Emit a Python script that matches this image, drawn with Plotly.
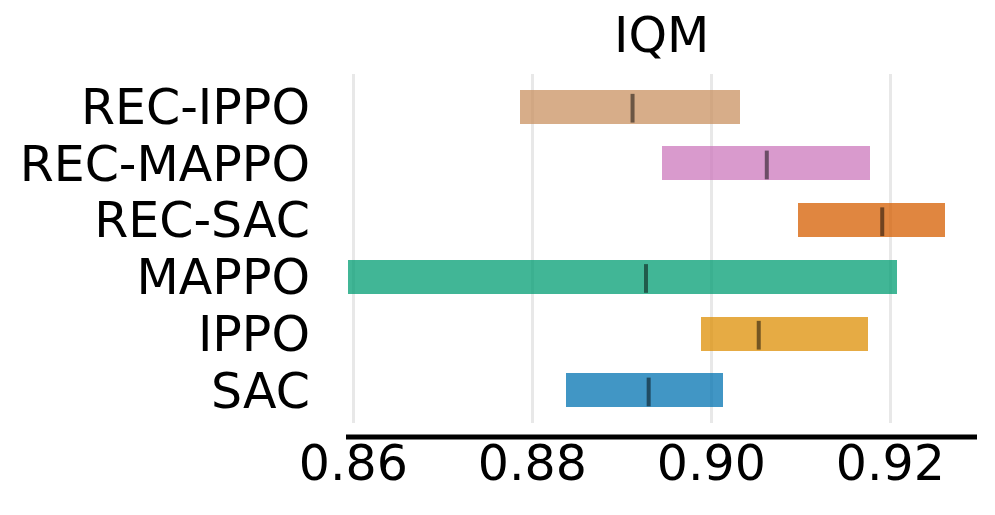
import plotly.graph_objects as go

algorithms = ["SAC", "IPPO", "MAPPO", "REC-SAC", "REC-MAPPO", "REC-IPPO"]
lower = [0.8838, 0.8988, 0.8594, 0.9097, 0.8945, 0.8786]
upper = [0.9013, 0.9175, 0.9208, 0.9261, 0.9177, 0.9032]
median = [0.8930, 0.9053, 0.8927, 0.9191, 0.9062, 0.8912]
colors = ["#0173B2", "#DE8F05", "#029E73", "#D55E00", "#CC78BC", "#CA9161"]
x_ticks = [0.86, 0.88, 0.90, 0.92]
x_tick_labels = ["0.86", "0.88", "0.90", "0.92"]
title = "IQM"

def rgba(hexc, a):
    h = hexc.lstrip("#")
    r, g, b = int(h[0:2], 16), int(h[2:4], 16), int(h[4:6], 16)
    return f"rgba({r},{g},{b},{a})"

H = 0.6
fig = go.Figure()
for i, alg in enumerate(algorithms):
    fig.add_trace(go.Bar(
        y=[i], x=[upper[i] - lower[i]], base=[lower[i]], orientation="h",
        width=H, marker=dict(color=rgba(colors[i], 0.75), line=dict(width=0)),
        showlegend=False, hoverinfo="skip",
    ))
for i, alg in enumerate(algorithms):
    fig.add_trace(go.Scatter(
        x=[median[i], median[i]], y=[i - 7.5 * H / 16, i + 6 * H / 16],
        mode="lines", line=dict(color="rgba(0,0,0,0.5)", width=4),
        showlegend=False, hoverinfo="skip",
    ))

font = "DejaVu Sans"
FS = 49
fig.update_layout(
    width=995, height=515,
    margin=dict(l=338, r=26, t=66, b=100),
    plot_bgcolor="white", paper_bgcolor="white",
    font=dict(family=font, size=FS, color="black"),
    bargap=0,
    xaxis=dict(
        range=[0.85918, 0.92969], tickvals=x_ticks, ticktext=x_tick_labels,
        showgrid=True, gridcolor="#e8e8e8", gridwidth=3,
        zeroline=False, showline=False, ticks="",
        tickfont=dict(family=font, size=FS, color="black"),
        ticklabelstandoff=7,
    ),
    yaxis=dict(
        range=[-0.575, 5.575], tickvals=list(range(len(algorithms))), ticktext=algorithms,
        showgrid=False, zeroline=False, showline=False, ticks="",
        tickfont=dict(family=font, size=FS, color="black"),
        ticklabelstandoff=35,
    ),
    shapes=[dict(type="line", xref="paper", yref="paper", x0=0, x1=1,
                 y0=-14 / 349, y1=-14 / 349, line=dict(color="black", width=5))],
    annotations=[dict(text=title, xref="paper", yref="paper", x=0.5, y=1.0,
                      yanchor="bottom", xanchor="center", yshift=8, showarrow=False,
                      font=dict(family=font, size=FS, color="black"))],
)
fig.write_html("out.html")
